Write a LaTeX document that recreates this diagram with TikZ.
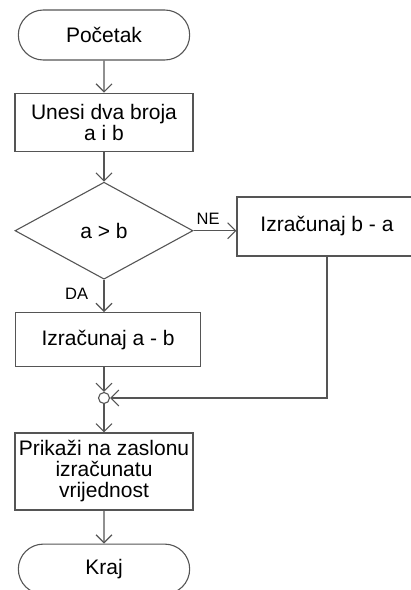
\documentclass[tikz,border=0pt]{standalone}
\usepackage{fontspec}
\setmainfont{Liberation Sans}
\usepackage{xcolor}
\definecolor{linija}{HTML}{555555}
\usepackage{tikz}
\usetikzlibrary{arrows.meta,positioning,shapes.geometric,shapes.misc}

\begin{document}
\begin{tikzpicture}[
  x=1pt,y=-1pt,
  node distance=32pt,
  font=\fontsize{21}{21}\selectfont,
  blok/.style={draw=linija,line width=1.1pt,rectangle,minimum width=178pt,minimum height=58pt,align=center,inner sep=2pt},
  term/.style={draw=linija,line width=1.1pt,rounded rectangle,minimum width=178pt,minimum height=50pt},
  odl/.style={draw=linija,line width=1.1pt,diamond,minimum width=178pt,minimum height=97pt,inner sep=0pt},
  spoj/.style={draw=linija,line width=1.1pt,circle,minimum size=11pt,inner sep=0pt},
  ar/.style={-{Straight Barb[length=8pt,width=16pt]},line width=1.1pt,draw=linija},
  oznaka/.style={font=\fontsize{16.5}{18}\selectfont}
]
\useasboundingbox (0,0) rectangle (411,590);
\clip (0,0) rectangle (411,590);

\node[term] (pocetak) at (104,35) {Početak};
\node[blok,below=of pocetak] (unos) {Unesi dva broja\\a i b};
\node[odl,below=30pt of unos] (odluka) {a > b};
\node[blok,minimum width=185pt,minimum height=54pt,anchor=north west] (razlikaAB) at (15,312) {Izračunaj a - b};
\node[blok,minimum width=180pt,minimum height=59pt] (razlikaBA) at (327,226.5) {Izračunaj b - a};
\node[spoj] (spoj) at (104,398) {};
\node[blok,minimum height=77pt] (ispis) at (104,471.5) {Prikaži na zaslonu\\izračunatu\\vrijednost};
\node[term,below=33pt of ispis] (kraj) {Kraj};

\draw[ar] (pocetak) -- (unos);
\draw[ar] (unos) -- (odluka);
\draw[ar] (odluka.east) -- node[oznaka,above,pos=0.34,yshift=2pt] {NE} (odluka.east -| razlikaBA.west);
\draw[ar] (odluka.south) -- node[oznaka,left,pos=0.43,xshift=-12pt] {DA} (odluka.south |- razlikaAB.north);
\draw[ar] (spoj.north |- razlikaAB.south) -- (spoj);
\draw[ar] (razlikaBA.south) -- (razlikaBA.south |- spoj) -- (spoj);
\draw[ar] (spoj) -- (ispis);
\draw[ar] (ispis) -- (kraj);
\end{tikzpicture}
\end{document}
